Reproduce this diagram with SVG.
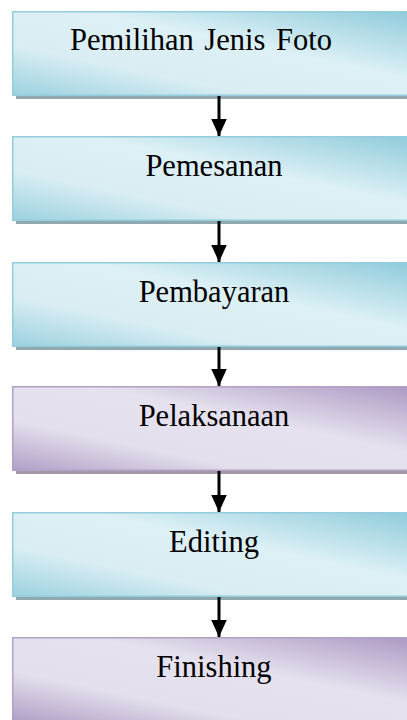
<svg xmlns="http://www.w3.org/2000/svg" width="407" height="720" viewBox="0 0 407 720">
  <defs>
    <linearGradient id="gTeal" x1="0" y1="1" x2="1" y2="0">
      <stop offset="0" stop-color="#9bd1df"/>
      <stop offset="0.3" stop-color="#d9edf3"/>
      <stop offset="0.6" stop-color="#dcf0f5"/>
      <stop offset="1" stop-color="#8fcbdb"/>
    </linearGradient>
    <linearGradient id="gPurple" x1="0" y1="1" x2="1" y2="0">
      <stop offset="0" stop-color="#b09fc6"/>
      <stop offset="0.3" stop-color="#e4dfec"/>
      <stop offset="0.6" stop-color="#e6e1ee"/>
      <stop offset="1" stop-color="#ab99c3"/>
    </linearGradient>
    <marker id="arrow" markerWidth="5.7" markerHeight="5.2" refX="5.7" refY="2.6" orient="auto" markerUnits="strokeWidth">
      <path d="M0,0 L5.7,2.6 L0,5.2 Z" fill="#000"/>
    </marker>
  </defs>
  <style>
    .teal { fill: url(#gTeal); stroke: #93cddd; stroke-width: 1.5; }
    .purple { fill: url(#gPurple); stroke: #b2a1c7; stroke-width: 1.5; }
    .shT { fill: #8fa9ae; }
    .shP { fill: #a29aab; }
    .lbl { font-family: "Liberation Serif", "Times New Roman", serif; font-size: 30.5px; fill: #000; text-anchor: middle; }
    .conn line { stroke: #000; stroke-width: 3; }
  </style>
  <rect width="407" height="720" fill="#fff"/>

  <g id="n1">
    <rect class="shT" x="16" y="15" width="395" height="84"/>
    <rect class="teal" x="12.75" y="11.75" width="400" height="83.5"/>
    <text class="lbl" x="201" y="50" word-spacing="3">Pemilihan Jenis Foto</text>
  </g>
  <g id="n2">
    <rect class="shT" x="16" y="140" width="395" height="84"/>
    <rect class="teal" x="12.75" y="136.75" width="400" height="83.5"/>
    <text class="lbl" x="214" y="176">Pemesanan</text>
  </g>
  <g id="n3">
    <rect class="shT" x="16" y="266" width="395" height="84"/>
    <rect class="teal" x="12.75" y="262.75" width="400" height="83.5"/>
    <text class="lbl" x="214" y="302">Pembayaran</text>
  </g>
  <g id="n4">
    <rect class="shP" x="16" y="390" width="395" height="84"/>
    <rect class="purple" x="12.75" y="386.75" width="400" height="83.5"/>
    <text class="lbl" x="214" y="426">Pelaksanaan</text>
  </g>
  <g id="n5">
    <rect class="shT" x="16" y="516" width="395" height="84"/>
    <rect class="teal" x="12.75" y="512.75" width="400" height="83.5"/>
    <text class="lbl" x="214" y="552">Editing</text>
  </g>
  <g id="n6">
    <rect class="shP" x="16" y="641" width="395" height="84"/>
    <rect class="purple" x="12.75" y="637.75" width="400" height="83.5"/>
    <text class="lbl" x="214" y="677">Finishing</text>
  </g>

  <g id="connectors" class="conn">
    <line x1="219" y1="96" x2="219" y2="136" marker-end="url(#arrow)"/>
    <line x1="219" y1="221" x2="219" y2="262" marker-end="url(#arrow)"/>
    <line x1="219" y1="347" x2="219" y2="386" marker-end="url(#arrow)"/>
    <line x1="219" y1="471" x2="219" y2="512" marker-end="url(#arrow)"/>
    <line x1="219" y1="597" x2="219" y2="637" marker-end="url(#arrow)"/>
  </g>
</svg>
